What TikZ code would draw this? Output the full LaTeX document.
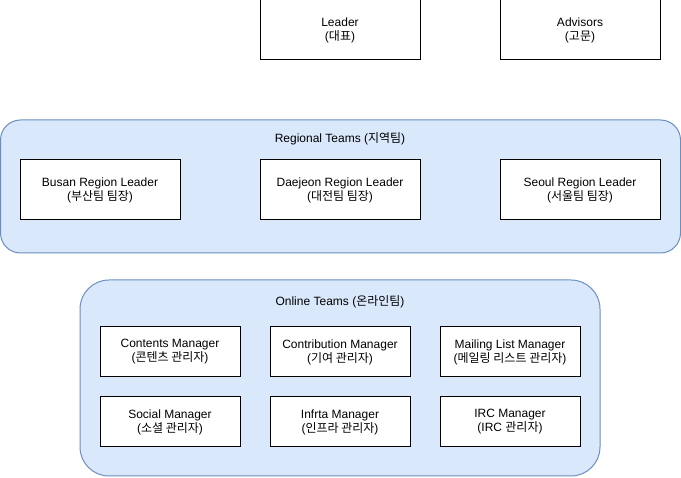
\documentclass[tikz,border=0pt]{standalone}
\usepackage{fontspec}
\setmainfont{Liberation Sans}
\newfontfamily\kr{Noto Sans CJK KR}
\definecolor{grpfill}{HTML}{DAE8FC}
\definecolor{grpdraw}{HTML}{6C8EBF}
\begin{document}
\begin{tikzpicture}[x=1pt,y=-1pt,
  txt/.style={font=\fontsize{12}{14}\selectfont, align=center, inner sep=0pt},
  bigbox/.style={txt, draw=black, fill=white, line width=1pt, minimum width=160pt, minimum height=60pt},
  smallbox/.style={txt, draw=black, fill=white, line width=1pt, minimum width=140pt, minimum height=50pt},
  group/.style={draw=grpdraw, fill=grpfill, line width=1pt, inner sep=0pt},
]
\useasboundingbox (0,0) rectangle (681,478);
% Top
\node[bigbox] (leader) at (340,30) {Leader\\({\kr 대표})};
\node[bigbox] (advisors) at (580,30) {Advisors\\({\kr 고문})};
% Regional teams
\node[group, rounded corners=20pt, minimum width=680pt, minimum height=133pt] (regional) at (340.5,186.5) {};
\node[txt] (regtitle) at (340,139) {Regional Teams ({\kr 지역팀})};
\node[bigbox] (busan) at (100,190) {Busan Region Leader\\({\kr 부산팀 팀장})};
\node[bigbox] (daejeon) at (340,190) {Daejeon Region Leader\\({\kr 대전팀 팀장})};
\node[bigbox] (seoul) at (580,190) {Seoul Region Leader\\({\kr 서울팀 팀장})};
% Online teams
\node[group, rounded corners=29pt, minimum width=520pt, minimum height=196pt] (online) at (340,378) {};
\node[txt] (ontitle) at (340,302) {Online Teams ({\kr 온라인팀})};
\node[smallbox] (contents) at (170,352) {Contents Manager\\({\kr 콘텐츠 관리자})};
\node[smallbox] (contrib) at (340,352) {Contribution Manager\\({\kr 기여 관리자})};
\node[smallbox] (mailing) at (510,352) {Mailing List Manager\\({\kr 메일링 리스트 관리자})};
\node[smallbox] (social) at (170,422) {Social Manager\\({\kr 소셜 관리자})};
\node[smallbox] (infra) at (340,422) {Infrta Manager\\({\kr 인프라 관리자})};
\node[smallbox] (irc) at (510,422) {IRC Manager\\(IRC {\kr 관리자})};
\end{tikzpicture}
\end{document}
